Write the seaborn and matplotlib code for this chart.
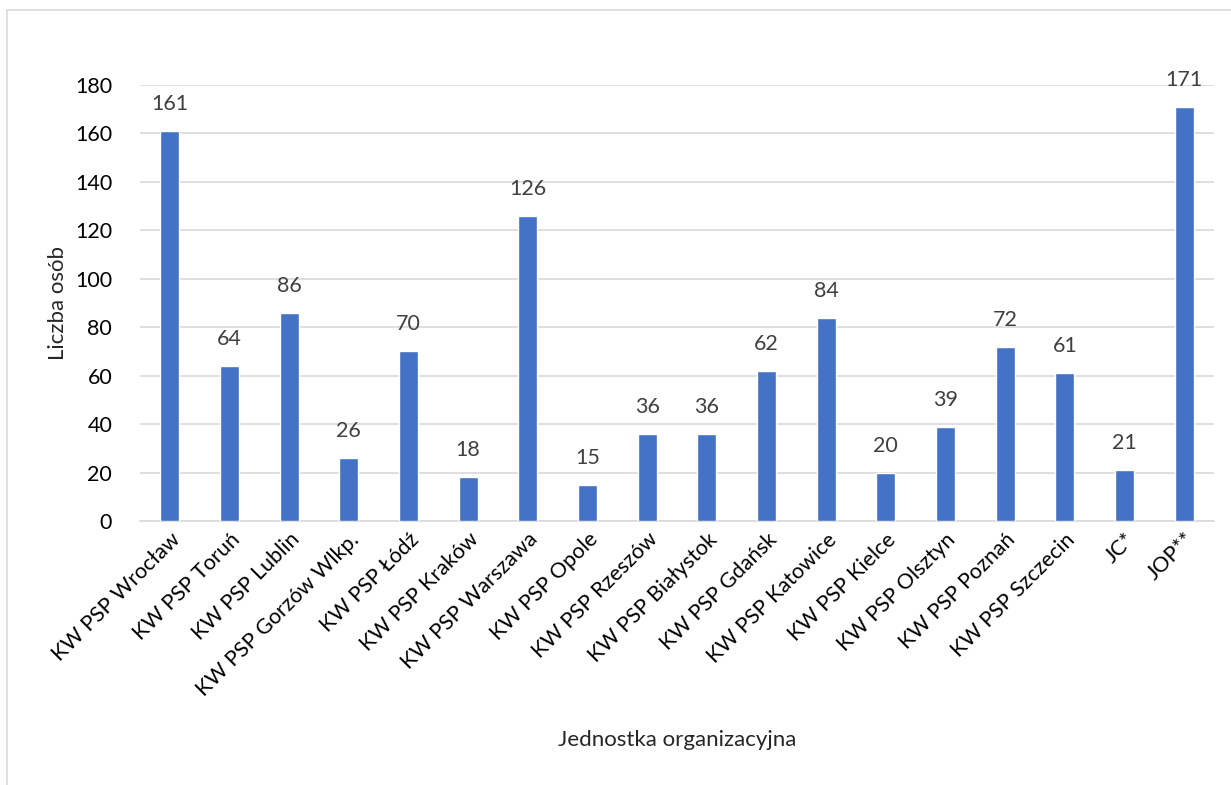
import pandas as pd
import numpy as np
import matplotlib.pyplot as plt
import seaborn as sns
from matplotlib.patches import Rectangle

# dane
jednostki = ['KW PSP Wrocław', 'KW PSP Toruń', 'KW PSP Lublin', 'KW PSP Gorzów Wlkp.',
             'KW PSP Łódź', 'KW PSP Kraków', 'KW PSP Warszawa', 'KW PSP Opole',
             'KW PSP Rzeszów', 'KW PSP Białystok', 'KW PSP Gdańsk', 'KW PSP Katowice',
             'KW PSP Kielce', 'KW PSP Olsztyn', 'KW PSP Poznań', 'KW PSP Szczecin',
             'JC*', 'JOP**']
liczba_osob = [161, 64, 86, 26, 70, 18, 126, 15, 36, 36, 62, 84, 20, 39, 72, 61, 21, 171]

df = pd.DataFrame({'jednostka': jednostki, 'liczba': liczba_osob})

sns.set_theme(style='white')
plt.rcParams['font.family'] = ['Lato', 'DejaVu Sans']

fig = plt.figure(figsize=(12.31, 7.85), dpi=100)
ax = fig.add_axes([140/1231, 1 - 521/785, (1214-140)/1231, (521-85)/785])

# ramka wokol calego wykresu
fig.patches.append(Rectangle((7/1231, -0.1), 1.2, 1 - 10/785 + 0.1, transform=fig.transFigure,
                             fill=False, edgecolor='#d9d9d9', linewidth=1.2))

sns.barplot(data=df, x='jednostka', y='liczba', color='#4472C4', saturation=1,
            width=0.32, ax=ax, zorder=3)

for i, v in enumerate(liczba_osob):
    ax.text(i, v + 7, str(v), ha='center', va='bottom', fontsize=15.5, color='#404040')

ax.set_ylim(0, 180)
ax.set_yticks(range(0, 181, 20))
ax.set_xlim(-0.5, len(jednostki) - 0.5)
ax.yaxis.grid(True, color='#d9d9d9', linewidth=1.2, zorder=0)
for s in ['top', 'right', 'left']:
    ax.spines[s].set_visible(False)
ax.spines['bottom'].set_color('#d9d9d9')
ax.spines['bottom'].set_linewidth(1.2)
ax.tick_params(axis='both', length=0, labelsize=15.5, colors='#000000')
ax.tick_params(axis='y', pad=20)
ax.tick_params(axis='x', pad=6)
plt.setp(ax.get_xticklabels(), rotation=45, ha='right', rotation_mode='anchor')
ax.set_xlabel('')
ax.set_ylabel('')

# tytuly osi jako tekst na figurze
fig.text(58/1231, 1 - 303/785, 'Liczba osób', rotation=90, ha='center', va='center',
         fontsize=16)
fig.text(677/1231, 1 - 740/785, 'Jednostka organizacyjna', ha='center', va='center',
         fontsize=16)

fig.savefig('out.png', dpi=100)
